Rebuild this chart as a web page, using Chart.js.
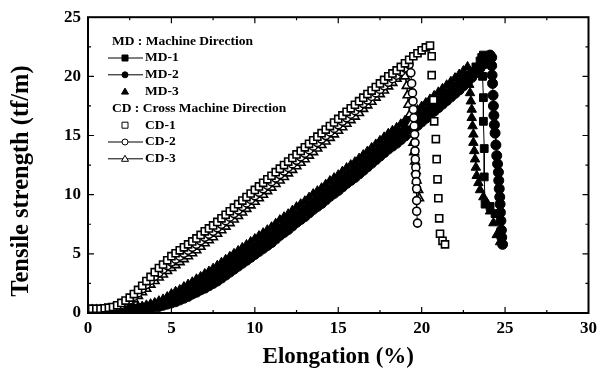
<!DOCTYPE html>
<html>
<head>
<meta charset="utf-8">
<script src="https://cdn.jsdelivr.net/npm/chart.js@4.4.1/dist/chart.umd.min.js"></script>
<style>
  body { margin: 0; background: #fff; }
  #wrap { width: 602px; height: 380px; }
</style>
</head>
<body>
<div id="wrap"><canvas id="tensileCanvas" width="602" height="380"></canvas></div>
<script>
// sampled elongation (%) for the loading part of every curve
var elongation = [0,0.25,0.5,0.75,1,1.25,1.5,1.75,2,2.25,2.5,2.75,3,3.25,3.5,3.75,4,4.25,4.5,4.75,
  5,5.25,5.5,5.75,6,6.25,6.5,6.75,7,7.25,7.5,7.75,8,8.25,8.5,8.75,9,9.25,9.5,9.75,
  10,10.25,10.5,10.75,11,11.25,11.5,11.75,12,12.25,12.5,12.75,13,13.25,13.5,13.75,14,14.25,14.5,14.75,
  15,15.25,15.5,15.75,16,16.25,16.5,16.75,17,17.25,17.5,17.75,18,18.25,18.5,18.75,19,19.25,19.5,19.75,
  20,20.25,20.5,20.75,21,21.25,21.5,21.75,22,22.25,22.5,22.75,23,23.25,23.5,23.75,24];

// tensile strength (tf/m) on that grid, machine direction
var md1Rise = [0.15,0.15,0.15,0.15,0.2,0.2,0.2,0.2,0.25,0.25,0.3,0.35,0.4,0.45,0.5,0.55,0.65,0.75,0.85,1.0,
  1.2,1.35,1.5,1.7,1.9,2.1,2.3,2.5,2.7,2.9,3.1,3.35,3.6,3.85,4.1,4.35,4.6,4.85,5.1,5.35,
  5.6,5.85,6.1,6.35,6.6,6.9,7.2,7.45,7.7,8.0,8.3,8.55,8.8,9.1,9.4,9.65,9.9,10.2,10.5,10.75,
  11.0,11.3,11.6,11.85,12.1,12.4,12.7,13.0,13.3,13.6,13.9,14.2,14.5,14.75,15.0,15.3,15.6,15.9,16.2,16.5,
  16.8,17.1,17.4,17.7,18.0,18.3,18.6,18.9,19.2,19.5,19.8,20.1,20.4,20.8,21.3];
var md2Rise = [0.1,0.1,0.1,0.1,0.15,0.15,0.15,0.15,0.2,0.2,0.25,0.3,0.3,0.35,0.4,0.45,0.5,0.55,0.65,0.75,
  0.85,0.95,1.1,1.25,1.4,1.6,1.75,1.95,2.1,2.3,2.5,2.7,2.95,3.2,3.45,3.7,3.95,4.2,4.45,4.7,
  4.95,5.2,5.45,5.7,5.95,6.25,6.55,6.8,7.05,7.35,7.65,7.9,8.15,8.45,8.75,9.0,9.25,9.55,9.85,10.1,
  10.35,10.65,10.95,11.2,11.45,11.75,12.05,12.35,12.65,12.95,13.25,13.55,13.85,14.1,14.35,14.65,14.95,15.25,15.55,15.85,
  16.15,16.45,16.75,17.05,17.35,17.65,17.95,18.25,18.55,18.85,19.2,19.55,19.9,20.3,20.7,21.1,21.5];
var md3Rise = [0.2,0.2,0.2,0.2,0.25,0.25,0.25,0.25,0.3,0.3,0.35,0.4,0.5,0.55,0.65,0.75,0.85,1.0,1.15,1.35,
  1.6,1.8,1.95,2.2,2.4,2.6,2.85,3.05,3.3,3.5,3.75,4.0,4.25,4.5,4.75,5.0,5.25,5.5,5.75,6.0,
  6.25,6.5,6.75,7.0,7.25,7.55,7.85,8.1,8.35,8.65,8.95,9.2,9.45,9.75,10.05,10.3,10.55,10.85,11.15,11.4,
  11.65,11.95,12.25,12.5,12.75,13.05,13.35,13.65,13.95,14.25,14.55,14.85,15.15,15.4,15.65,15.95,16.25,16.55,16.85,17.15,
  17.45,17.75,18.05,18.35,18.65,18.95,19.25,19.55,19.85,20.15,20.45,20.8];

// cross machine direction
var cd1Rise = [0.35,0.35,0.35,0.35,0.4,0.45,0.5,0.65,0.85,1.05,1.3,1.6,1.95,2.3,2.7,3.05,3.45,3.8,4.1,4.45,
  4.8,5.05,5.3,5.55,5.8,6.05,6.3,6.6,6.9,7.15,7.4,7.7,8.0,8.3,8.6,8.9,9.2,9.5,9.8,10.1,
  10.4,10.7,11.0,11.3,11.6,11.9,12.2,12.5,12.8,13.1,13.4,13.7,14.0,14.3,14.6,14.9,15.2,15.5,15.8,16.1,
  16.4,16.7,17.0,17.3,17.6,17.9,18.2,18.5,18.8,19.1,19.4,19.7,20.0,20.25,20.5,20.8,21.1,21.4,21.7,21.95,
  22.2,22.45,22.6];
var cd2Rise = [0.3,0.3,0.3,0.3,0.35,0.4,0.45,0.55,0.7,0.9,1.1,1.4,1.7,2.05,2.4,2.75,3.1,3.4,3.7,4.0,
  4.3,4.55,4.8,5.05,5.3,5.55,5.8,6.1,6.4,6.65,6.9,7.2,7.5,7.8,8.1,8.4,8.7,9.0,9.3,9.6,
  9.9,10.2,10.5,10.8,11.1,11.4,11.7,12.0,12.3,12.6,12.9,13.2,13.5,13.8,14.1,14.4,14.7,15.0,15.3,15.6,
  15.9,16.2,16.5,16.8,17.1,17.4,17.7,18.0,18.3,18.6,18.9,19.2,19.5,19.8,20.1,20.4,20.7,21.0];
var cd3Rise = [0.25,0.25,0.25,0.25,0.3,0.35,0.4,0.45,0.6,0.75,0.9,1.15,1.45,1.75,2.05,2.4,2.7,3.0,3.25,3.55,
  3.8,4.05,4.3,4.55,4.8,5.05,5.3,5.6,5.9,6.15,6.4,6.7,7.0,7.3,7.6,7.9,8.2,8.5,8.8,9.1,
  9.4,9.7,10.0,10.3,10.6,10.9,11.2,11.5,11.8,12.1,12.4,12.7,13.0,13.3,13.6,13.9,14.2,14.5,14.8,15.1,
  15.4,15.7,16.0,16.3,16.6,16.9,17.25,17.55,17.85,18.2,18.5,18.8,19.15,19.45,19.8,20.2,20.6];

// peak and rupture, [elongation, strength]
var md1Drop = [[23.6,21.6],[23.7,21.8],[23.65,21.0],[23.65,20.0],[23.7,18.2],[23.7,16.2],[23.75,13.9],[23.75,11.5],
  [23.8,9.2],[24.1,9.0],[24.4,8.4]];
var md2Drop = [[24.1,21.8],[24.2,21.6],[24.2,20.9],[24.22,20.1],[24.25,19.4],[24.28,18.4],[24.3,17.5],[24.33,16.7],
  [24.36,15.9],[24.4,15.2],[24.45,14.2],[24.5,13.3],[24.55,12.6],[24.6,11.9],[24.62,11.2],[24.65,10.5],
  [24.68,9.8],[24.7,9.2],[24.72,8.5],[24.75,7.8],[24.78,7.0],[24.8,6.4],[24.85,5.8]];
var md3Drop = [[22.8,20.0],[22.85,19.3],[22.9,18.6],[22.95,17.9],[23.0,17.2],[23.0,16.5],[23.05,15.8],[23.1,15.1],
  [23.1,14.4],[23.15,13.7],[23.2,13.0],[23.25,12.3],[23.3,11.6],[23.4,11.0],[23.5,10.4],[23.7,9.8],
  [23.9,9.3],[24.1,8.6],[24.3,7.6],[24.5,6.6],[24.7,6.0]];
var cd1Drop = [[20.6,21.7],[20.6,20.1],[20.7,18.0],[20.75,16.2],[20.85,14.7],[20.9,13.0],[20.95,11.3],[21.0,9.7],
  [21.05,8.0],[21.1,6.7],[21.25,6.1],[21.4,5.8]];
var cd2Drop = [[19.35,20.3],[19.4,19.4],[19.45,18.6],[19.48,17.9],[19.5,17.2],[19.53,16.5],[19.55,15.8],[19.58,15.1],
  [19.6,14.4],[19.6,13.7],[19.62,13.0],[19.65,12.3],[19.65,11.7],[19.68,11.1],[19.7,10.5],[19.7,9.5],
  [19.7,8.6],[19.75,7.6]];
var cd3Drop = [[19.0,20.0],[19.1,19.2],[19.15,18.4],[19.2,17.6],[19.3,16.8],[19.35,16.0],[19.45,15.2],[19.5,14.4],
  [19.55,13.6],[19.6,12.8],[19.65,12.0],[19.7,11.2],[19.8,10.4],[19.85,9.7]];

var xTicks = [0, 5, 10, 15, 20, 25, 30];
var yTicks = [0, 5, 10, 15, 20, 25];

var serif = "'Liberation Serif', 'Times New Roman', serif";

function buildCurve(rise, drop) {
  var pts = rise.map(function(v, i) { return { x: elongation[i], y: v }; });
  drop.forEach(function(p) { pts.push({ x: p[0], y: p[1] }); });
  return pts;
}

// open markers for CD, filled for MD; CD listed first so it sits on top
var datasets = [
  { label: 'CD-1', data: buildCurve(cd1Rise, cd1Drop), pointStyle: 'rect', pointRadius: 5, showLine: false },
  { label: 'CD-2', data: buildCurve(cd2Rise, cd2Drop), pointStyle: 'circle', pointRadius: 4, showLine: true },
  { label: 'CD-3', data: buildCurve(cd3Rise, cd3Drop), pointStyle: 'triangle', pointRadius: 5, showLine: true },
  { label: 'MD-1', data: buildCurve(md1Rise, md1Drop), pointStyle: 'rect', pointRadius: 5.5, showLine: true, filled: true },
  { label: 'MD-2', data: buildCurve(md2Rise, md2Drop), pointStyle: 'circle', pointRadius: 5, showLine: true, filled: true },
  { label: 'MD-3', data: buildCurve(md3Rise, md3Drop), pointStyle: 'triangle', pointRadius: 5.5, showLine: false, filled: true }
];
datasets.forEach(function(ds) {
  ds.borderColor = '#000';
  ds.borderWidth = 1;
  ds.pointBorderColor = '#000';
  ds.pointBorderWidth = ds.filled ? 1 : 1.6;
  ds.pointBackgroundColor = ds.filled ? '#000' : '#fff';
  ds.pointHoverRadius = ds.pointRadius;
  ds.tension = 0;
});

// frame plus inward tick marks on all four sides
var framePlugin = {
  id: 'frame',
  afterDraw: function(chart) {
    var ctx = chart.ctx, a = chart.chartArea;
    var xs = chart.scales.x, ys = chart.scales.y;
    ctx.save();
    ctx.strokeStyle = '#000';
    ctx.lineWidth = 2;
    ctx.strokeRect(a.left, a.top, a.right - a.left, a.bottom - a.top);
    ctx.lineWidth = 1.2;
    ctx.beginPath();
    for (var v = 2.5; v < 30; v += 2.5) {
      var len = (v % 5 === 0) ? 6 : 3;
      var px = xs.getPixelForValue(v);
      ctx.moveTo(px, a.bottom); ctx.lineTo(px, a.bottom - len);
      ctx.moveTo(px, a.top); ctx.lineTo(px, a.top + len);
    }
    for (var w = 2.5; w < 25; w += 2.5) {
      var l2 = (w % 5 === 0) ? 6 : 3;
      var py = ys.getPixelForValue(w);
      ctx.moveTo(a.left, py); ctx.lineTo(a.left + l2, py);
      ctx.moveTo(a.right, py); ctx.lineTo(a.right - l2, py);
    }
    ctx.stroke();

    // y axis title
    ctx.translate(22, 181);
    ctx.rotate(-Math.PI / 2);
    ctx.font = 'bold 24.5px ' + serif;
    ctx.textAlign = 'center';
    ctx.textBaseline = 'middle';
    ctx.fillStyle = '#000';
    ctx.fillText('Tensile strength (tf/m)', 0, 0);
    ctx.restore();
  }
};

function drawMark(ctx, style, filled, x, y) {
  ctx.beginPath();
  if (style === 'rect') {
    ctx.rect(x - 3, y - 3, 6, 6);
  } else if (style === 'circle') {
    ctx.arc(x, y, 3, 0, Math.PI * 2);
  } else {
    ctx.moveTo(x, y - 3.5);
    ctx.lineTo(x + 3.5, y + 2.5);
    ctx.lineTo(x - 3.5, y + 2.5);
    ctx.closePath();
  }
  ctx.fillStyle = filled ? '#000' : '#fff';
  ctx.fill();
  ctx.lineWidth = 1;
  ctx.strokeStyle = '#000';
  ctx.stroke();
}

// legend block in the upper left of the plot
var legendRows = [
  { text: 'MD : Machine Direction', head: true },
  { text: 'MD-1', style: 'rect', filled: true, line: true },
  { text: 'MD-2', style: 'circle', filled: true, line: true },
  { text: 'MD-3', style: 'triangle', filled: true, line: false },
  { text: 'CD : Cross Machine Direction', head: true },
  { text: 'CD-1', style: 'rect', filled: false, line: false },
  { text: 'CD-2', style: 'circle', filled: false, line: true },
  { text: 'CD-3', style: 'triangle', filled: false, line: true }
];

var legendPlugin = {
  id: 'sideLegend',
  afterDraw: function(chart) {
    var ctx = chart.ctx;
    var left = chart.chartArea.left;
    ctx.save();
    ctx.font = 'bold 13.5px ' + serif;
    ctx.textBaseline = 'middle';
    ctx.fillStyle = '#000';
    legendRows.forEach(function(r, i) {
      var y = chart.chartArea.top + 24 + i * 16.8;
      if (r.head) {
        ctx.fillText(r.text, left + 24, y);
        return;
      }
      var mx = left + 37;
      if (r.line) {
        ctx.beginPath();
        ctx.lineWidth = 1;
        ctx.strokeStyle = '#000';
        ctx.moveTo(left + 20, y); ctx.lineTo(left + 55, y);
        ctx.stroke();
      }
      drawMark(ctx, r.style, r.filled, mx, y);
      ctx.fillStyle = '#000';
      ctx.fillText(r.text, left + 57, y);
    });
    ctx.restore();
  }
};

var tickFont = { family: serif, size: 17, weight: 'bold' };
var titleFont = { family: serif, size: 23, weight: 'bold' };

var chart = new Chart(document.getElementById('tensileCanvas'), {
  type: 'scatter',
  data: { datasets: datasets },
  options: {
    responsive: false,
    animation: false,
    layout: { padding: { left: 0, right: 9, top: 13, bottom: 0 } },
    plugins: {
      legend: { display: false },
      tooltip: { enabled: false }
    },
    scales: {
      x: {
        type: 'linear',
        min: 0,
        max: 30,
        afterBuildTicks: function(scale) {
          scale.ticks = xTicks.map(function(v) { return { value: v }; });
        },
        afterFit: function(scale) { scale.height = 67; },
        grid: { display: false, drawTicks: false },
        border: { display: false },
        ticks: { font: tickFont, color: '#000', padding: 5, maxRotation: 0 },
        title: { display: true, text: 'Elongation (%)', font: titleFont, color: '#000', padding: { top: 0, bottom: 9 } }
      },
      y: {
        type: 'linear',
        min: 0,
        max: 25,
        afterBuildTicks: function(scale) {
          scale.ticks = yTicks.map(function(v) { return { value: v }; });
        },
        afterFit: function(scale) { scale.width = 88; },
        grid: { display: false, drawTicks: false },
        border: { display: false },
        ticks: { font: tickFont, color: '#000', padding: 7 }
      }
    }
  },
  plugins: [framePlugin, legendPlugin]
});
</script>
</body>
</html>
